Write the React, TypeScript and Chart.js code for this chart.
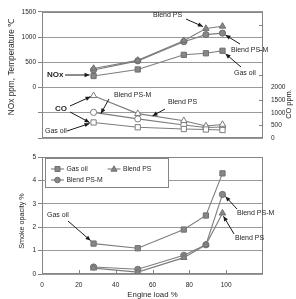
import { useEffect, useRef } from 'react';
import { Chart, registerables } from 'chart.js';

Chart.register(...registerables);

// Engine load (%) at each measured operating point
const loads = [28, 52, 77, 89, 98];

// NOx (ppm)
const noxGasOil = [230, 360, 650, 680, 730];
const noxBlendPS = [380, 540, 930, 1170, 1215];
const noxBlendPSM = [350, 530, 910, 1050, 1080];

// CO (ppm)
const coGasOil = [620, 430, 360, 340, 320];
const coBlendPS = [1680, 970, 690, 480, 540];
const coBlendPSM = [1020, 760, 520, 420, 440];

// Smoke opacity (%)
const smokeGasOil = [1.3, 1.1, 1.9, 2.5, 4.3];
const smokeBlendPS = [0.25, 0.08, 0.7, 1.25, 2.6];
const smokeBlendPSM = [0.3, 0.2, 0.8, 1.25, 3.4];

const seriesNames = ['Gas oil', 'Blend PS', 'Blend PS-M'];
const markerShapes = ['rect', 'triangle', 'circle'] as const;

const FONT = "'Liberation Sans', Arial, Helvetica, sans-serif";
const LINE = '#7d7d7d';
const FILL = '#878787';
const GRID = '#9a9a9a';
const FRAME = '#858585';
const TEXT = '#262626';

const radiusFor = (shape: string) => (shape === 'circle' ? 3.1 : 3.7);

function series(values: number[], idx: number, axis: string, open: boolean) {
  const shape = markerShapes[idx];
  return {
    label: seriesNames[idx],
    data: loads.map((x, i) => ({ x, y: values[i] })),
    yAxisID: axis,
    borderColor: LINE,
    borderWidth: 1.1,
    pointStyle: shape,
    pointRadius: radiusFor(shape),
    pointBorderWidth: 1,
    pointBorderColor: open ? LINE : '#6f6f6f',
    pointBackgroundColor: open ? '#ffffff' : FILL,
    tension: 0,
    fill: false,
  };
}

function arrow(ctx: CanvasRenderingContext2D, x1: number, y1: number, x2: number, y2: number) {
  ctx.strokeStyle = '#1a1a1a';
  ctx.fillStyle = '#1a1a1a';
  ctx.lineWidth = 1;
  ctx.beginPath();
  ctx.moveTo(x1, y1);
  ctx.lineTo(x2, y2);
  ctx.stroke();
  const a = Math.atan2(y2 - y1, x2 - x1);
  const h = 5;
  const w = 2.2;
  ctx.beginPath();
  ctx.moveTo(x2, y2);
  ctx.lineTo(x2 - h * Math.cos(a) + w * Math.sin(a), y2 - h * Math.sin(a) - w * Math.cos(a));
  ctx.lineTo(x2 - h * Math.cos(a) - w * Math.sin(a), y2 - h * Math.sin(a) + w * Math.cos(a));
  ctx.closePath();
  ctx.fill();
}

function label(ctx: CanvasRenderingContext2D, text: string, x: number, y: number, size = 7, bold = false) {
  ctx.font = `${bold ? 'bold ' : ''}${size}px ${FONT}`;
  ctx.textAlign = 'left';
  ctx.textBaseline = 'middle';
  ctx.fillStyle = TEXT;
  ctx.fillText(text, x, y);
}

function vTitle(ctx: CanvasRenderingContext2D, text: string, x: number, y: number, size: number) {
  ctx.save();
  ctx.translate(x, y);
  ctx.rotate(-Math.PI / 2);
  ctx.font = `${size}px ${FONT}`;
  ctx.textAlign = 'center';
  ctx.textBaseline = 'middle';
  ctx.fillStyle = TEXT;
  ctx.fillText(text, 0, 0);
  ctx.restore();
}

function frame(chart: any) {
  const { ctx, chartArea: a } = chart;
  ctx.save();
  ctx.strokeStyle = FRAME;
  ctx.lineWidth = 1;
  ctx.strokeRect(Math.round(a.left) + 0.5, Math.round(a.top) + 0.5, Math.round(a.right - a.left) - 1, Math.round(a.bottom - a.top) - 1);
  ctx.restore();
}

function pt(chart: any, axis: string, xv: number, yv: number) {
  return [chart.scales.x.getPixelForValue(xv), chart.scales[axis].getPixelForValue(yv)];
}

function legendMarker(ctx: CanvasRenderingContext2D, shape: string, x: number, y: number) {
  ctx.strokeStyle = LINE;
  ctx.lineWidth = 1.1;
  ctx.beginPath();
  ctx.moveTo(x - 6.5, y);
  ctx.lineTo(x + 6.5, y);
  ctx.stroke();
  ctx.fillStyle = FILL;
  ctx.strokeStyle = '#6f6f6f';
  ctx.lineWidth = 1;
  ctx.beginPath();
  if (shape === 'rect') {
    ctx.rect(x - 2.5, y - 2.5, 5, 5);
  } else if (shape === 'circle') {
    ctx.arc(x, y, 2.8, 0, Math.PI * 2);
  } else {
    ctx.moveTo(x, y - 3.2);
    ctx.lineTo(x + 3, y + 2.2);
    ctx.lineTo(x - 3, y + 2.2);
    ctx.closePath();
  }
  ctx.fill();
  ctx.stroke();
}

const tickFont = { family: FONT, size: 6.5 };

function TopChart() {
  const ref = useRef<HTMLCanvasElement>(null);
  useEffect(() => {
    if (!ref.current) return;
    const chart = new Chart(ref.current, {
      type: 'line',
      data: {
        datasets: [
          series(coGasOil, 0, 'y2', true),
          series(coBlendPS, 1, 'y2', true),
          series(coBlendPSM, 2, 'y2', true),
          series(noxGasOil, 0, 'y', false),
          series(noxBlendPS, 1, 'y', false),
          series(noxBlendPSM, 2, 'y', false),
        ] as any,
      },
      options: {
        animation: false,
        responsive: false,
        devicePixelRatio: 1,
        layout: { padding: { top: 7, bottom: 5, left: 0, right: 0 } },
        plugins: { legend: { display: false }, tooltip: { enabled: false } },
        scales: {
          x: { type: 'linear', min: 0, max: 120, display: false },
          y: {
            position: 'left',
            min: -1000,
            max: 1500,
            afterFit: (s: any) => { s.width = 42; },
            ticks: {
              stepSize: 500,
              autoSkip: false,
              padding: 2,
              color: TEXT,
              font: tickFont,
              callback: (v: any) => (v >= 0 ? String(v) : ''),
            },
            grid: { color: GRID, lineWidth: 1, tickLength: 4, tickColor: FRAME },
            border: { display: false },
          },
          y2: {
            position: 'right',
            min: 0,
            max: 5000,
            afterFit: (s: any) => { s.width = 33; },
            ticks: {
              stepSize: 500,
              autoSkip: false,
              padding: 8,
              color: TEXT,
              font: tickFont,
              callback: (v: any) => (v <= 2000 ? String(v) : ''),
            },
            grid: { drawOnChartArea: false, drawTicks: false },
            border: { display: false },
          },
        },
      } as any,
      plugins: [
        {
          id: 'topDecor',
          beforeDatasetsDraw(c: any) {
            frame(c);
            const { ctx, chartArea: a, scales } = c;
            ctx.save();
            ctx.strokeStyle = FRAME;
            ctx.lineWidth = 1;
            for (let v = 500; v < 5000; v += 1000) {
              const y = Math.round(scales.y2.getPixelForValue(v)) + 0.5;
              ctx.beginPath();
              ctx.moveTo(a.right - 4, y);
              ctx.lineTo(a.right, y);
              ctx.stroke();
            }
            ctx.restore();
          },
          afterDraw(c: any) {
            const ctx = c.ctx as CanvasRenderingContext2D;
            ctx.save();
            vTitle(ctx, 'NOx ppm, Temperature ℃', 12, 67, 8.3);
            vTitle(ctx, 'CO ppm.', 289, 104, 7.4);

            // NOx group
            label(ctx, 'Blend PS', 153, 15);
            let [px, py] = pt(c, 'y', loads[3], noxBlendPS[3]);
            arrow(ctx, 186, 19, px - 3, py - 2);
            label(ctx, 'Blend PS-M', 231, 50);
            [px, py] = pt(c, 'y', loads[4], noxBlendPSM[4]);
            arrow(ctx, 240, 44, px + 3, py + 2);
            label(ctx, 'Gas oil', 234, 73);
            [px, py] = pt(c, 'y', loads[4], noxGasOil[4]);
            arrow(ctx, 241, 67, px + 3, py + 3);
            label(ctx, 'NOx', 47, 75, 8, true);
            [px, py] = pt(c, 'y', loads[0], noxGasOil[0]);
            arrow(ctx, 65, 75, px - 4, py - 1);

            // CO group
            label(ctx, 'CO', 55, 109, 8, true);
            [px, py] = pt(c, 'y2', loads[0], coBlendPS[0]);
            arrow(ctx, 70, 106, px - 3, py + 1);
            [px, py] = pt(c, 'y2', loads[0], coGasOil[0]);
            arrow(ctx, 70, 112, px - 4, py);
            label(ctx, 'Blend PS-M', 114, 95);
            [px, py] = pt(c, 'y2', 32, (coBlendPSM[0] * 20 + coBlendPSM[1] * 4) / 24);
            arrow(ctx, 109, 99, px, py);
            label(ctx, 'Blend PS', 168, 102);
            [px, py] = pt(c, 'y2', 60, (coBlendPS[1] * 17 + coBlendPS[2] * 8) / 25);
            arrow(ctx, 165, 109, px, py);
            label(ctx, 'Gas oil', 45, 131);
            [px, py] = pt(c, 'y2', loads[0], coGasOil[0]);
            arrow(ctx, 67, 131, px - 4, py + 1);
            ctx.restore();
          },
        },
      ],
    });
    return () => chart.destroy();
  }, []);
  return <canvas ref={ref} width={296} height={150} style={{ position: 'absolute', left: 0, top: 0, width: 296, height: 150 }} />;
}

function SmokeChart() {
  const ref = useRef<HTMLCanvasElement>(null);
  useEffect(() => {
    if (!ref.current) return;
    const chart = new Chart(ref.current, {
      type: 'line',
      data: {
        datasets: [
          series(smokeGasOil, 0, 'y', false),
          series(smokeBlendPS, 1, 'y', false),
          series(smokeBlendPSM, 2, 'y', false),
        ] as any,
      },
      options: {
        animation: false,
        responsive: false,
        devicePixelRatio: 1,
        layout: { padding: { top: 7, bottom: 0, left: 0, right: 33 } },
        plugins: { legend: { display: false }, tooltip: { enabled: false } },
        scales: {
          x: {
            type: 'linear',
            min: 0,
            max: 120,
            afterFit: (s: any) => { s.height = 25; },
            ticks: {
              stepSize: 20,
              autoSkip: false,
              maxRotation: 0,
              padding: 7,
              color: TEXT,
              font: tickFont,
              callback: (v: any) => (v <= 100 ? String(v) : ''),
            },
            grid: { drawOnChartArea: false, drawTicks: false },
            border: { display: false },
          },
          y: {
            position: 'left',
            min: 0,
            max: 5,
            afterFit: (s: any) => { s.width = 42; },
            ticks: { stepSize: 1, autoSkip: false, padding: 2, color: TEXT, font: tickFont },
            grid: { color: GRID, lineWidth: 1, tickLength: 4, tickColor: FRAME },
            border: { display: false },
          },
        },
      } as any,
      plugins: [
        {
          id: 'smokeDecor',
          beforeDatasetsDraw(c: any) {
            frame(c);
            const { ctx, chartArea: a, scales } = c;
            ctx.save();
            ctx.strokeStyle = FRAME;
            ctx.lineWidth = 1;
            for (let v = 20; v <= 100; v += 20) {
              const x = Math.round(scales.x.getPixelForValue(v)) + 0.5;
              ctx.beginPath();
              ctx.moveTo(x, a.bottom - 4);
              ctx.lineTo(x, a.bottom);
              ctx.stroke();
            }
            ctx.restore();
          },
          afterDraw(c: any) {
            const ctx = c.ctx as CanvasRenderingContext2D;
            ctx.save();
            vTitle(ctx, 'Smoke opacity %', 22, 71, 7.2);
            ctx.font = `7.8px ${FONT}`;
            ctx.textAlign = 'center';
            ctx.textBaseline = 'middle';
            ctx.fillStyle = TEXT;
            ctx.fillText('Engine load %', (c.chartArea.left + c.chartArea.right) / 2, 145);

            // legend box
            ctx.fillStyle = '#ffffff';
            ctx.fillRect(45, 8, 123, 29);
            ctx.strokeStyle = FRAME;
            ctx.lineWidth = 1;
            ctx.strokeRect(45.5, 8.5, 123, 29);
            const entries: [number, number, number][] = [
              [0, 57.5, 19],
              [1, 114, 19],
              [2, 57.5, 30],
            ];
            for (const [i, x, y] of entries) {
              legendMarker(ctx, markerShapes[i], x, y);
              label(ctx, seriesNames[i], x + 9, y, 6.8);
            }

            label(ctx, 'Gas oil', 47, 65.5);
            let [px, py] = pt(c, 'y', loads[0], smokeGasOil[0]);
            arrow(ctx, 68, 71, px - 3, py - 3);
            label(ctx, 'Blend PS-M', 237, 63);
            [px, py] = pt(c, 'y', loads[4], smokeBlendPSM[4]);
            arrow(ctx, 237, 59, px + 3, py + 2);
            label(ctx, 'Blend PS', 235, 88);
            [px, py] = pt(c, 'y', loads[4], smokeBlendPS[4]);
            arrow(ctx, 234, 84, px + 1, py + 3);
            ctx.restore();
          },
        },
      ],
    });
    return () => chart.destroy();
  }, []);
  return <canvas ref={ref} width={296} height={149} style={{ position: 'absolute', left: 0, top: 150, width: 296, height: 149 }} />;
}

export default function App() {
  return (
    <div style={{ position: 'absolute', left: 0, top: 0, width: 296, height: 299, background: '#ffffff', overflow: 'hidden' }}>
      <TopChart />
      <SmokeChart />
    </div>
  );
}
